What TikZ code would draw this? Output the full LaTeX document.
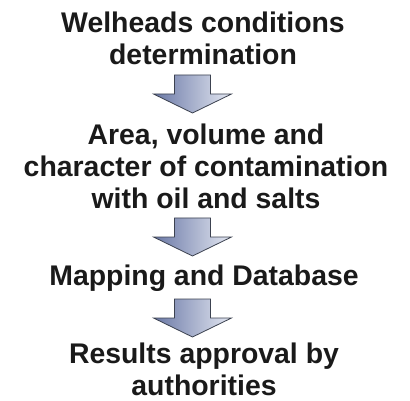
\documentclass[tikz,border=0pt]{standalone}
\usepackage{fontspec}
\setmainfont{Liberation Sans}
\definecolor{txtc}{HTML}{1A1A1A}
\definecolor{arrdark}{HTML}{6A78A6}
\definecolor{arrlight}{HTML}{E4E8F2}
\definecolor{arredge}{HTML}{3C4250}
\tikzset{
  stagetext/.style={anchor=base, align=center, text=txtc, inner sep=0pt,
    font=\fontsize{28.4}{32}\selectfont\bfseries},
  flowarrow/.style={draw=arredge, line width=0.8pt, line join=miter,
    left color=arrdark, right color=arrlight},
  pics/downarrow/.style={code={
    \path[flowarrow] (-18pt,0pt) -- (18pt,0pt) -- (18pt,-19pt) -- (39pt,-19pt)
      -- (0pt,-38pt) -- (-39pt,-19pt) -- (-18pt,-19pt) -- cycle;
  }}
}
\begin{document}
\begin{tikzpicture}[x=1pt,y=1pt]
\useasboundingbox (0,0) rectangle (410,-401);
% base anchor = baseline of the last line
\node[stagetext] (s1) at (203,-64.5) {Welheads conditions\\determination};
\node[stagetext] (s2) at (206,-208) {Area, volume and\\character of contamination\\with oil and salts};
\node[stagetext] (s3) at (204,-285) {Mapping and Database};
\node[stagetext] (s4) at (204,-395) {Results approval by\\authorities};
\coordinate (a1) at (192.5,-75);
\coordinate (a2) at (192.5,-218);
\coordinate (a3) at (192.5,-299);
\pic at (a1) {downarrow};
\pic at (a2) {downarrow};
\pic at (a3) {downarrow};
\end{tikzpicture}
\end{document}
